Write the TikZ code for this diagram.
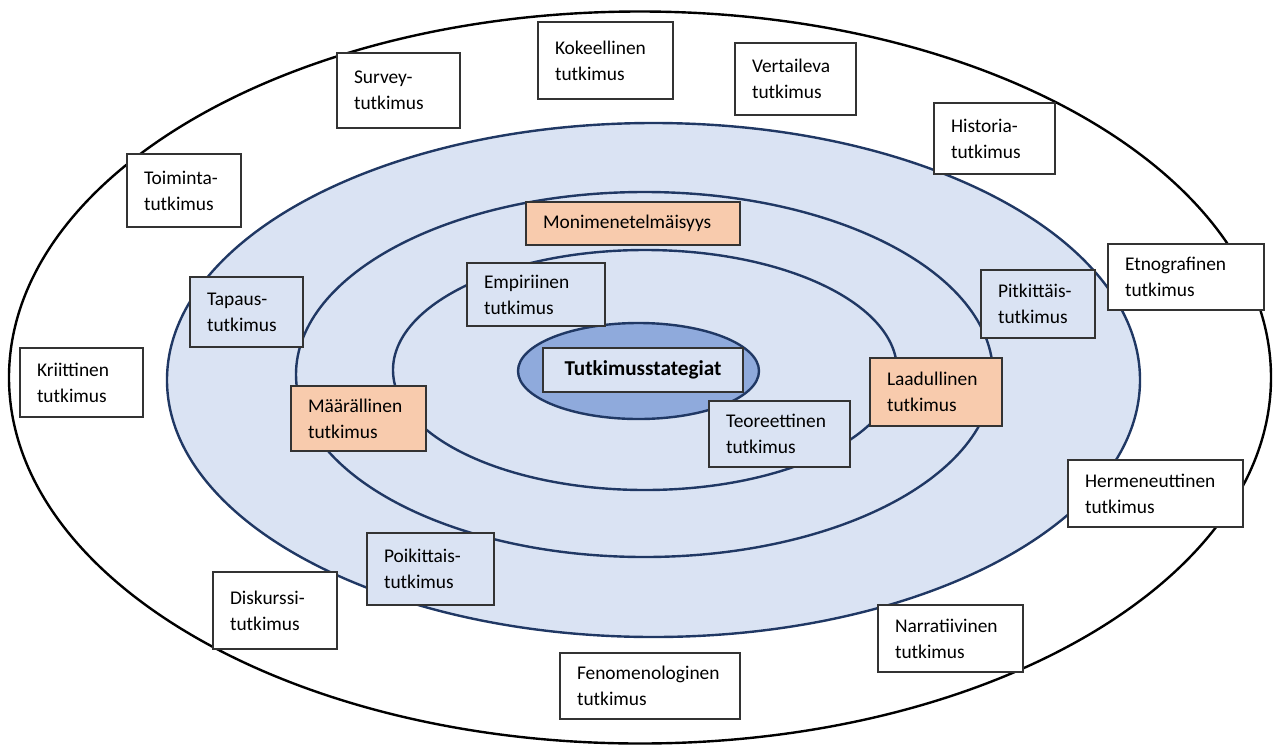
\documentclass[tikz,border=0pt]{standalone}
\usepackage{fontspec}
\setmainfont{Carlito}
\usepackage{xcolor}
\usepackage{tikz}
\definecolor{ringblue}{RGB}{218,227,243}
\definecolor{coreblue}{RGB}{143,170,220}
\definecolor{ringline}{RGB}{32,56,100}
\definecolor{keyorange}{RGB}{248,203,173}
\tikzstyle{ring} = [draw=ringline, line width=1.2pt]
\tikzstyle{plainbox} = [rectangle, draw=black!80, line width=0.7pt, fill=white,
inner xsep=8.5pt, inner ysep=2pt, align=left,
font=\fontsize{9.7}{13}\selectfont]
\tikzstyle{bluebox} = [plainbox, fill=ringblue]
\tikzstyle{orangebox} = [plainbox, fill=keyorange]
\tikzstyle{corebox} = [rectangle, draw=black!80, line width=0.7pt, fill=ringblue,
minimum width=100pt, minimum height=22pt,
font=\fontsize{10.6}{13}\selectfont\bfseries]

\begin{document}
\begin{tikzpicture}[x=0.5pt, y=-0.5pt]
    \useasboundingbox (0,0) rectangle (1274,745);
    % rings, outside in
    \draw[black, line width=1.2pt, fill=white] (640,377.5) ellipse [x radius=631, y radius=366];
    \draw[ring, fill=ringblue] (653.5,380) ellipse [x radius=486.5, y radius=257];
    \draw[ring] (644.5,374.5) ellipse [x radius=348.5, y radius=182.5];
    \draw[ring] (645,370) ellipse [x radius=252, y radius=120];
    \draw[ring, fill=coreblue] (638.5,371) ellipse [x radius=120.5, y radius=48];

    \node (core) [corebox] at (643,370) {Tutkimusstategiat};

    % outer ring
    \node (survey) [plainbox, text width=44.5pt, minimum height=37.5pt] at (398.5,90.5) {Survey-\\tutkimus};
    \node (kokeel) [plainbox, text width=50.5pt, minimum height=38.5pt] at (605.5,60.5) {Kokeellinen\\tutkimus};
    \node (vertail) [plainbox, text width=43.5pt, minimum height=36pt] at (795.5,79) {Vertaileva\\tutkimus};
    \node (histor) [plainbox, text width=43.5pt, minimum height=35.5pt] at (994.5,138.5) {Historia-\\tutkimus};
    \node (toimin) [plainbox, text width=40pt, minimum height=36.5pt] at (184,190.5) {Toiminta-\\tutkimus};
    \node (etnogr) [plainbox, text width=61pt, minimum height=33pt] at (1186,277) {Etnografinen\\tutkimus};
    \node (kriitt) [plainbox, text width=44.5pt, minimum height=34.5pt] at (81.5,382.5) {Kriittinen\\tutkimus};
    \node (hermen) [plainbox, text width=70.5pt, minimum height=33.5pt] at (1155.5,493.5) {Hermeneuttinen\\tutkimus};
    \node (diskur) [plainbox, text width=45pt, minimum height=38.5pt] at (275,610.5) {Diskurssi-\\tutkimus};
    \node (narrat) [plainbox, text width=55.5pt, minimum height=33.5pt] at (950.5,638.5) {Narratiivinen\\tutkimus};
    \node (fenome) [plainbox, text width=73pt, minimum height=33pt] at (650,686) {Fenomenologinen\\tutkimus};

    % blue rings
    \node (tapaus) [bluebox, text width=39.5pt, minimum height=35pt] at (246.5,312) {Tapaus-\\tutkimus};
    \node (empiir) [bluebox, text width=52pt, minimum height=31.5pt] at (536,294.5) {Empiriinen\\tutkimus};
    \node (pitkit) [bluebox, text width=40pt, minimum height=34pt] at (1038,304) {Pitkittäis-\\tutkimus};
    \node (teoree) [bluebox, text width=53.5pt, minimum height=33pt] at (779.5,434) {Teoreettinen\\tutkimus};
    \node (poikit) [bluebox, text width=46.5pt, minimum height=36pt] at (430.5,569) {Poikittais-\\tutkimus};

    % method boxes
    \node (monime) [orangebox, text width=90pt, minimum height=21.5pt] at (633,223.5) {Monimenetelmäisyys};
    \node (maaral) [orangebox, text width=50.5pt, minimum height=32.5pt] at (358.5,418.5) {Määrällinen\\tutkimus};
    \node (laadul) [orangebox, text width=49pt, minimum height=34pt] at (936,392) {Laadullinen\\tutkimus};
\end{tikzpicture}
\end{document}
